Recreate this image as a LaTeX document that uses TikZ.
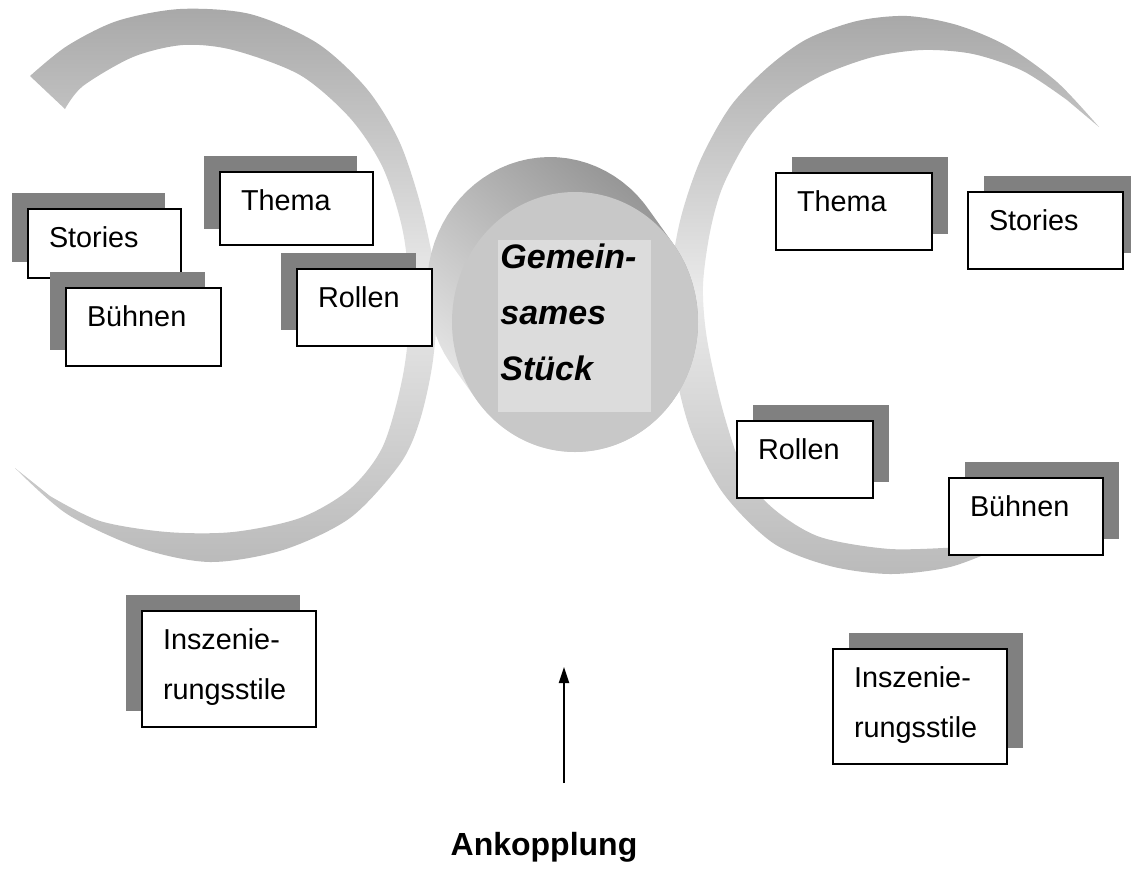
\documentclass[tikz,border=0pt]{standalone}
\usepackage{fontspec}
\setmainfont{Liberation Sans}
\usetikzlibrary{shadows,arrows.meta}
\definecolor{myshadow}{RGB}{128,128,128}
\definecolor{mydisc}{RGB}{200,200,200}
\definecolor{mylabel}{RGB}{220,220,220}

\begin{document}
\begin{tikzpicture}[x=0.5pt,y=-0.5pt,
	card/.style={draw,line width=1pt,fill=white,anchor=north west,
		inner xsep=10.5pt,inner ysep=0pt,text height=19pt,align=left,
		font=\fontsize{14.4}{25}\selectfont},
	lcardnode/.style={card,drop shadow={shadow xshift=-8pt,shadow yshift=8pt,fill=myshadow,opacity=1}},
	rcardnode/.style={card,drop shadow={shadow xshift=8pt,shadow yshift=8pt,fill=myshadow,opacity=1}},
	ribbon/.style={top color=black!34,bottom color=black!27,middle color=black!8},
	cylside/.style={top color=black!42,bottom color=black!8,shading angle=-40},
	stuecknode/.style={fill=mylabel,anchor=north west,inner xsep=1pt,inner ysep=0pt,
		text width=74.5pt,text height=14pt,text depth=72pt,align=left,
		font=\fontsize{17}{28}\selectfont\bfseries\itshape},
	pfeil/.style={line width=1pt,-{Triangle[length=8pt,width=5pt]}},
	]
	
	\clip (0,0) rectangle (1131,890);
	
	% left ribbon
	\shade[ribbon] plot[smooth] coordinates {(30,76) (67,46) (117,21) (180,9) (250,14) (317,43) (367,89) (400,143) (423,214) (437,290) (433,360) (420,420) (400,464) (350,518) (283,550) (210,562) (140,548) (67,514) (15,468)}
		-- plot[smooth] coordinates {(50,496) (100,521) (167,532) (233,532) (300,518) (350,489) (383,446) (403,375) (410,304) (403,232) (383,168) (350,118) (300,75) (233,50) (183,45) (133,57) (83,86) (65,109)} -- cycle;
	
	% right ribbon
	\shade[ribbon] plot[smooth] coordinates {(1099,127) (1057,82) (1007,46) (957,25) (907,16) (857,21) (807,39) (767,68) (730,107) (700,161) (680,221) (670,286) (673,357) (690,429) (723,493) (773,543) (830,566) (890,574) (950,567) (1000,548)}
		-- plot[smooth] coordinates {(960,547) (890,549) (820,537) (775,510) (745,475) (723,411) (707,339) (703,286) (710,232) (723,186) (750,136) (783,100) (823,75) (873,57) (923,50) (973,54) (1023,71) (1067,100)} -- cycle;
	
	% cylinder
	\shade[cylside] plot[domain=-35.5:-215.5,samples=40] ({550+123*cos(\x)},{287+130*sin(\x)})
		-- plot[domain=144.5:-35.5,samples=40] ({575+123*cos(\x)},{322+130*sin(\x)}) -- cycle;
	\fill[mydisc] (575,322) ellipse [x radius=61.5pt,y radius=65pt];
	\node[stuecknode] (stueck) at (498,240) {Gemein-\\sames\\Stück};
	
	% left cards
	\node[lcardnode,text width=55.5pt,text depth=15.5pt] (lstories) at (27,208) {Stories};
	\node[lcardnode,text width=55.5pt,text depth=17.5pt] (lthema) at (219,171) {Thema};
	\node[lcardnode,text width=56.5pt,text depth=20pt] (lbuehnen) at (65,287) {Bühnen};
	\node[lcardnode,text width=46.5pt,text depth=19.5pt] (lrollen) at (296,268) {Rollen};
	\node[lcardnode,text width=66pt,text depth=39pt] (linsz) at (141,610) {Inszenie-\\rungsstile};
	
	% right cards
	\node[rcardnode,text width=57pt,text depth=19.5pt] (rthema) at (775,172) {Thema};
	\node[rcardnode,text width=56.5pt,text depth=19.5pt] (rstories) at (967,191) {Stories};
	\node[rcardnode,text width=47pt,text depth=19.5pt] (rrollen) at (736,420) {Rollen};
	\node[rcardnode,text width=56pt,text depth=19.5pt] (rbuehnen) at (948,477) {Bühnen};
	\node[rcardnode,text width=66pt,text depth=38.5pt] (rinsz) at (832,648) {Inszenie-\\rungsstile};
	
	% coupling
	\node[anchor=base,font=\fontsize{16}{18}\selectfont\bfseries] (ankopplung) at (544,855) {Ankopplung};
	\coordinate (pfeilfuss) at (564,783);
	\coordinate (pfeilspitze) at (564,667);
	\draw[pfeil] (pfeilfuss) -- (pfeilspitze);
	
\end{tikzpicture}
\end{document}
